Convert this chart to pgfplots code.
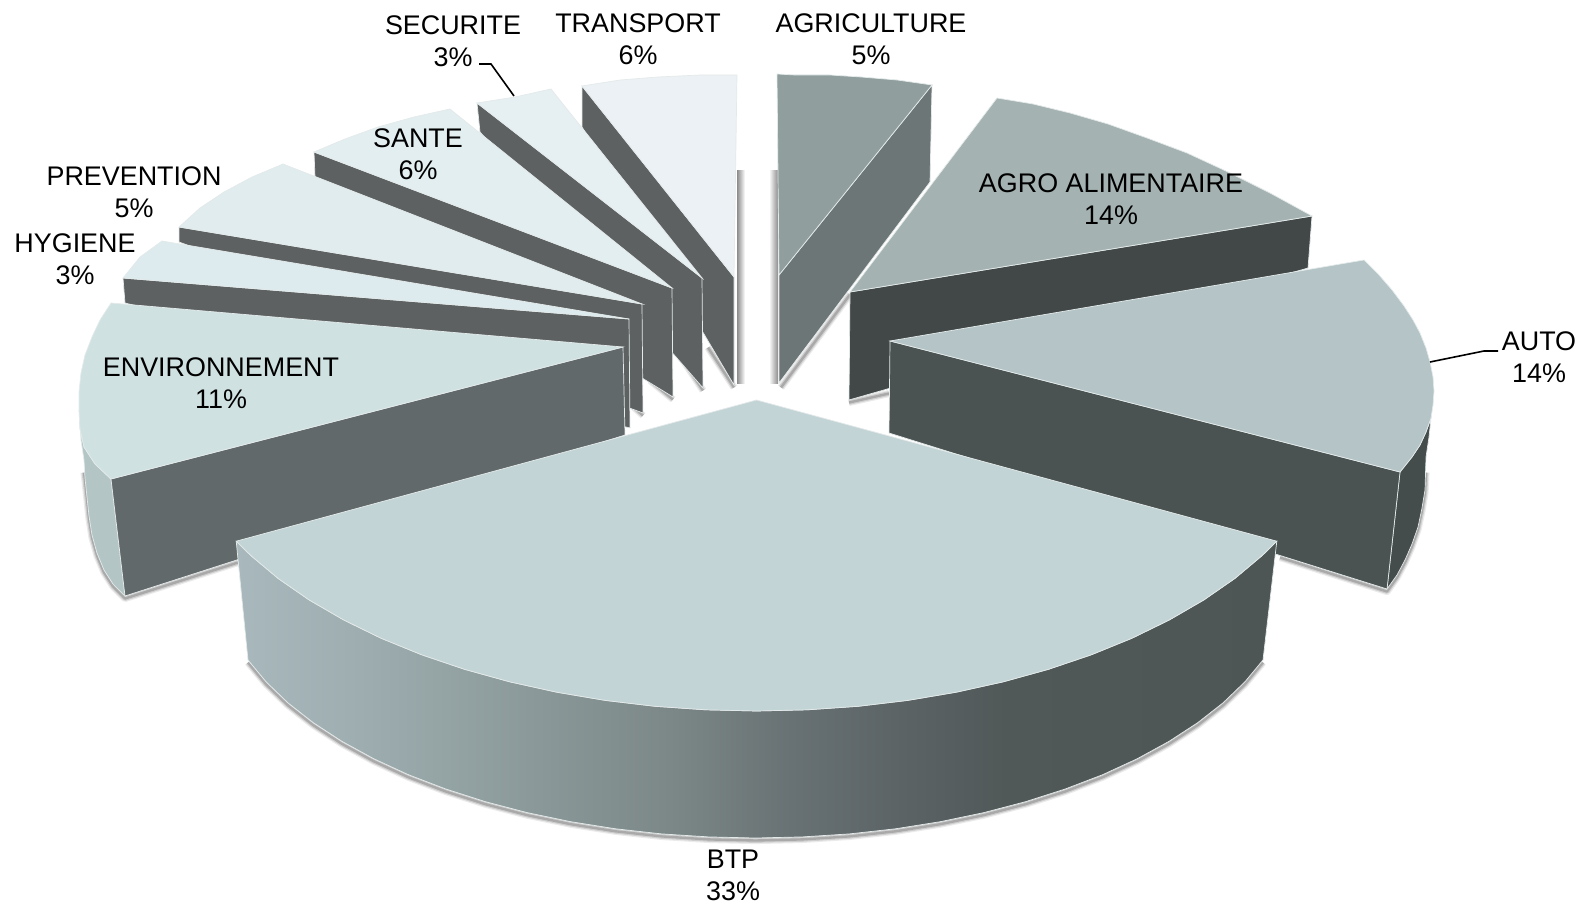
\documentclass[border=0pt]{standalone}
\usepackage{pgfplots}
\usepackage{pgfplotstable}
\usepackage{fontspec}
\setmainfont{Liberation Sans}
\pgfplotsset{compat=1.18}

\definecolor{edge}{HTML}{E4EAEA}
\definecolor{rimA}{HTML}{A8B8BC}
\definecolor{rimB}{HTML}{9FAEB1}
\definecolor{rimC}{HTML}{93A2A3}
\definecolor{rimD}{HTML}{7D8989}
\definecolor{rimE}{HTML}{677072}
\definecolor{rimF}{HTML}{5B6365}
\definecolor{rimG}{HTML}{505858}
\definecolor{rimH}{HTML}{4E5655}
\definecolor{ctransport}{HTML}{EBF1F4}
\definecolor{csecurite}{HTML}{E6EFF2}
\definecolor{csante}{HTML}{E3EEF0}
\definecolor{cprevention}{HTML}{E0ECEE}
\definecolor{chygiene}{HTML}{DDEBEE}
\definecolor{cenv}{HTML}{D0E1E2}
\definecolor{cenvrim}{HTML}{B4C5C6}
\definecolor{cenvwall}{HTML}{62696A}
\definecolor{csmallwall}{HTML}{5E6162}
\definecolor{cagri}{HTML}{909F9E}
\definecolor{cagriwall}{HTML}{6C7677}
\definecolor{cagro}{HTML}{A4B2B1}
\definecolor{cagrowall}{HTML}{424848}
\definecolor{cauto}{HTML}{B4C4C7}
\definecolor{cautowall}{HTML}{4A5252}
\definecolor{cautorim}{HTML}{444C4C}
\definecolor{cbtp}{HTML}{C3D4D6}
% tikz fits the 25bp-75bp part of a shading to the path
\pgfdeclarehorizontalshading{btprim}{100bp}{
  color(0bp)=(rimA); color(25bp)=(rimA); color(30.5bp)=(rimB); color(35.5bp)=(rimC); color(45.5bp)=(rimD);
  color(52bp)=(rimE); color(57bp)=(rimF); color(62bp)=(rimG); color(75bp)=(rimH); color(100bp)=(rimH)}

% outlines in picture pixels
\pgfplotstableread{
x y
582 86
620 80
658 77
700 75
737 75
734 277
}\transporttop
\pgfplotstableread{
x y
582 86
734 277
734 385
582 127
}\transportwall
\pgfplotstableread{
x y
477 103
515 97
551 89
702 278
}\securitetop
\pgfplotstableread{
x y
477 103
702 278
703 388
480 132
}\securitewall
\pgfplotstableread{
x y
314 152
345 139
378 127
414 117
450 109
672 288
}\santetop
\pgfplotstableread{
x y
314 152
672 288
673 397
315 177
}\santewall
\pgfplotstableread{
x y
179 227
200 208
224 192
252 177
283 164
642 304
}\preventiontop
\pgfplotstableread{
x y
179 227
642 304
643 413
179 242
}\preventionwall
\pgfplotstableread{
x y
123 278
140 257
162 241
629 319
}\hygienetop
\pgfplotstableread{
x y
123 278
629 319
630 428
125 303
}\hygienewall
\pgfplotstableread{
x y
111 303
100 320
92 337
85 355
81 373
79 392
79 410
80 429
84 447
95 464
111 479
623 347
}\envtop
\pgfplotstableread{
x y
623 347
111 479
125 596
625 435
}\envwall
\pgfplotstableread{
x y
79 410
80 429
84 447
95 464
111 479
125 596
113 584
104 570
97 553
92 535
89 516
87 497
85 478
84 460
81 440
}\envrim
\pgfplotstableread{
x y
84 470
85 478
87 497
89 516
92 535
97 553
104 570
113 584
125 596
238 560
}\envedge
\pgfplotstableread{
x y
777 74
795 75
830 75
861 77
897 80
932 85
779 275
}\agritop
\pgfplotstableread{
x y
932 85
779 275
779 383
930 182
}\agriwall
\pgfplotstableread{
x y
997 98
1033 104
1070 113
1108 124
1147 138
1187 153
1228 172
1270 193
1312 216
850 292
}\agrotop
\pgfplotstableread{
x y
1312 216
850 292
849 400
1308 268
}\agrowall
\pgfplotstableread{
x y
1364 260
1379 275
1392 290
1404 306
1413 320
1420 333
1426 348
1430 362
1433 377
1434 391
1433 405
1431 418
1426 432
1420 445
1412 457
1400 472
890 341
}\autotop
\pgfplotstableread{
x y
890 341
1400 472
1387 589
889 433
}\autowall
\pgfplotstableread{
x y
1431 418
1426 432
1420 445
1412 457
1400 472
1387 589
1397 575
1405 560
1412 544
1418 527
1422 508
1425 490
1426 457
1429 437
}\autorim
\pgfplotstableread{
x y
1426 470
1425 490
1422 508
1418 527
1412 544
1405 560
1397 575
1387 589
1280 555
}\autoedge
\pgfplotstableread{
x y
756.5 400
1276.8 541.2
1262.2 555.5
1234.9 578.4
1203.9 599.9
1169.4 619.9
1132.0 638.2
1091.5 654.7
1048.5 669.3
1003.3 681.8
956.2 692.2
907.7 700.4
858.1 706.3
807.4 709.8
756.5 711
705.6 709.8
655.1 706.3
605.3 700.4
556.8 692.2
509.7 681.8
464.5 669.3
421.5 654.7
381.0 638.2
343.6 619.9
309.1 599.9
278.1 578.4
250.8 555.5
236.2 541.2
}\btptop
\pgfplotstableread{
x y
1276.8 541.2
1262.2 555.5
1234.9 578.4
1203.9 599.9
1169.4 619.9
1132.0 638.2
1091.5 654.7
1048.5 669.3
1003.3 681.8
956.2 692.2
907.7 700.4
858.1 706.3
807.4 709.8
756.5 711
705.6 709.8
655.1 706.3
605.3 700.4
556.8 692.2
509.7 681.8
464.5 669.3
421.5 654.7
381.0 638.2
343.6 619.9
309.1 599.9
278.1 578.4
250.8 555.5
236.2 541.2
248.0 660.0
266.1 681.8
287.8 702.7
313.2 722.6
341.9 741.3
373.7 758.7
408.4 774.7
445.8 789.0
485.5 801.7
527.1 812.6
570.8 821.7
615.6 828.8
661.7 833.9
708.5 836.9
755.5 838
802.5 836.9
849.3 833.9
895.4 828.8
940.2 821.7
983.9 812.6
1025.5 801.7
1065.2 789.0
1102.6 774.7
1137.3 758.7
1169.1 741.3
1197.8 722.6
1223.2 702.7
1244.9 681.8
1263.0 660.0
}\btpwall
\pgfplotstableread{
x y
248.0 660.0
266.1 681.8
287.8 702.7
313.2 722.6
341.9 741.3
373.7 758.7
408.4 774.7
445.8 789.0
485.5 801.7
527.1 812.6
570.8 821.7
615.6 828.8
661.7 833.9
708.5 836.9
755.5 838
802.5 836.9
849.3 833.9
895.4 828.8
940.2 821.7
983.9 812.6
1025.5 801.7
1065.2 789.0
1102.6 774.7
1137.3 758.7
1169.1 741.3
1197.8 722.6
1223.2 702.7
1244.9 681.8
1263.0 660.0
}\btpedge
% inner ends of the walls, for their shadows
\pgfplotstableread{
x y
850 292
781 385
}\agriedge
\pgfplotstableread{
x y
849 400
889 391
}\agroedge
\pgfplotstableread{
x y
708 345
734 385
}\transportedge
\pgfplotstableread{
x y
678 350
703 388
}\securiteedge
\pgfplotstableread{
x y
650 378
673 397
}\santeedge
\pgfplotstableread{
x y
633 404
643 413
}\preventionedge

\newcommand{\softshadow}[1]{
  \addplot[draw=black,draw opacity=.08,line width=3.6pt,line join=round] table[x=x,y expr=\thisrow{y}+2.5] {#1};
  \addplot[draw=black,draw opacity=.12,line width=2.4pt,line join=round] table[x=x,y expr=\thisrow{y}+2.5] {#1};
  \addplot[draw=black,draw opacity=.18,line width=1.2pt,line join=round] table[x=x,y expr=\thisrow{y}+2.5] {#1};
}
\newcommand{\piece}[2]{
  \addplot[fill=#2,draw=edge,line width=.35pt] table {#1} -- cycle;
}
\newcommand{\lab}[3]{
  \node[align=center,inner sep=0pt,font=\fontsize{13.45}{16}\selectfont] at (axis cs:#1,#2) {#3};
}

\begin{document}
\begin{tikzpicture}
\begin{axis}[
  width=797.5pt, height=457pt, scale only axis,
  xmin=0, xmax=1595, ymin=0, ymax=914, y dir=reverse,
  hide axis, clip=false,
]
% hide axis drops the box, keep the page as large as the axis
\path (axis cs:0,0) rectangle (axis cs:1595,914);
% soft shadows first
\softshadow{\btpedge}
\softshadow{\autoedge}
\softshadow{\envedge}
\softshadow{\agriedge}
\softshadow{\agroedge}
\softshadow{\transportedge}
\softshadow{\securiteedge}
\softshadow{\santeedge}
\softshadow{\preventionedge}
% bands beside the two central slices
\addplot[left color=black!45,right color=white,draw=none] coordinates {(737,171) (745,171) (745,384) (737,384)} -- cycle;
\addplot[left color=white,right color=black!45,draw=none] coordinates {(769,171) (778,171) (778,384) (769,384)} -- cycle;

% small slices, from right to left so that each top covers its neighbour's wall
\piece{\transportwall}{csmallwall}
\piece{\transporttop}{ctransport}
\piece{\securitewall}{csmallwall}
\piece{\securitetop}{csecurite}
\piece{\santewall}{csmallwall}
\piece{\santetop}{csante}
\piece{\preventionwall}{csmallwall}
\piece{\preventiontop}{cprevention}
\piece{\hygienewall}{csmallwall}
\piece{\hygienetop}{chygiene}
\piece{\envrim}{cenvrim}
\piece{\envwall}{cenvwall}
\piece{\envtop}{cenv}
% right hand slices
\piece{\agriwall}{cagriwall}
\piece{\agritop}{cagri}
\piece{\agrowall}{cagrowall}
\piece{\agrotop}{cagro}
\piece{\autorim}{cautorim}
\piece{\autowall}{cautowall}
\piece{\autotop}{cauto}
% large slice
\addplot[shading=btprim,draw=edge,line width=.35pt] table {\btpwall} -- cycle;
\piece{\btptop}{cbtp}

% leader lines
\addplot[black,line width=.8pt] coordinates {(479,64) (491,64) (514,96)};
\addplot[black,line width=.8pt] coordinates {(1430,362) (1484,351) (1498,351)};

\lab{453}{41}{SECURITE\\3\%}
\lab{638}{39}{TRANSPORT\\6\%}
\lab{871}{39}{AGRICULTURE\\5\%}
\lab{1111}{199}{AGRO ALIMENTAIRE\\14\%}
\lab{1539}{357}{AUTO\\14\%}
\lab{733}{875}{BTP\\33\%}
\lab{221}{383}{ENVIRONNEMENT\\11\%}
\lab{75}{259}{HYGIENE\\3\%}
\lab{134}{192}{PREVENTION\\5\%}
\lab{418}{154}{SANTE\\6\%}
\end{axis}
\end{tikzpicture}
\end{document}
